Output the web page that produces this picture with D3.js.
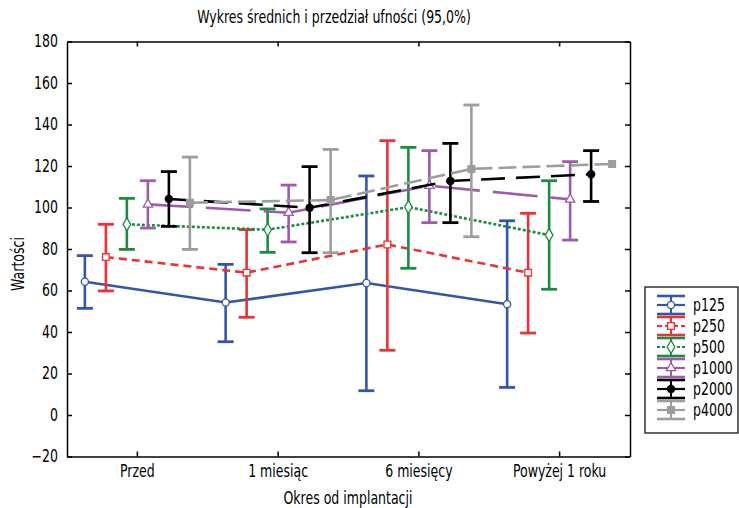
<!DOCTYPE html>
<html>
<head>
<meta charset="utf-8">
<script src="https://cdn.jsdelivr.net/npm/d3@7"></script>
<style>
  body { margin: 0; background: #fff; }
  svg text { font-family: "Liberation Sans Narrow", "DejaVu Sans Condensed", sans-serif; }
</style>
</head>
<body>
<svg id="chart" width="739" height="508"></svg>
<script>
// categories and series
var categories = ["Przed", "1 miesiąc", "6 miesięcy", "Powyżej 1 roku"]
var seriesNames = ["p125", "p250", "p500", "p1000", "p2000", "p4000"]
var yTicks = [-20, 0, 20, 40, 60, 80, 100, 120, 140, 160, 180]

// means and confidence limits
var means_p125 = [64.2, 54.2, 63.6, 53.4]
var lower_p125 = [51.4, 35.3, 11.7, 13.3]
var upper_p125 = [76.8, 72.6, 115.2, 93.6]

var means_p250 = [76.1, 68.6, 82.2, 68.6]
var lower_p250 = [59.8, 47.1, 31.2, 39.5]
var upper_p250 = [91.9, 89.3, 132.2, 97.2]

var means_p500 = [91.9, 89.3, 100.2, 86.7]
var lower_p500 = [79.8, 78.4, 70.7, 60.6]
var upper_p500 = [104.4, 99.3, 129.0, 112.9]

var means_p1000 = [101.5, 97.5, 110.5, 103.9]
var lower_p1000 = [90.1, 83.4, 92.7, 84.3]
var upper_p1000 = [112.9, 110.8, 127.4, 122.1]

var means_p2000 = [104.1, 99.9, 112.8, 116.0]
var lower_p2000 = [90.9, 78.2, 92.7, 102.9]
var upper_p2000 = [117.3, 119.7, 130.9, 127.4]

var means_p4000 = [102.3, 103.6, 118.6, 121.0]
var lower_p4000 = [79.8, 78.2, 85.9, 121.0]
var upper_p4000 = [124.3, 128.0, 149.4, 121.0]

var allMeans = [means_p125, means_p250, means_p500, means_p1000, means_p2000, means_p4000]
var allLower = [lower_p125, lower_p250, lower_p500, lower_p1000, lower_p2000, lower_p4000]
var allUpper = [upper_p125, upper_p250, upper_p500, upper_p1000, upper_p2000, upper_p4000]

// look of each series
var colors = ["#3456a6", "#ec3236", "#1d8a42", "#9c5bab", "#000000", "#9d9d9d"]
var dashes = [null, "8,5", "3,2", "45,13", "24,11", "18,6"]
var legendDashes = [null, "5,3", "3,2", null, null, null]
var symbols = [d3.symbolCircle, d3.symbolSquare, d3.symbolDiamond, d3.symbolTriangle, d3.symbolCircle, d3.symbolSquare]
var symSize = [40, 45, 50, 38, 40, 45]
var filled = [false, false, false, false, true, true]

var margin = {left: 67, right: 109, top: 41.5, bottom: 51.5}
var width = 739 - margin.left - margin.right,
  height = 508 - margin.top - margin.bottom

var svg = d3.select("#chart")
var g = svg.append("g").attr("transform", "translate(" + margin.left + "," + margin.top + ")")

var x = d3.scaleBand().domain(categories).range([0, width])
var y = d3.scaleLinear().domain([-20, 180]).range([height, 0])
var step = 21

function xpos(si, ci){
  return x(categories[ci]) + x.bandwidth() / 2 + (si - 2.5) * step
}

// squeeze text horizontally around its anchor, to mimic the condensed face
function narrow(sel){
  sel.each(function(){
    var t = d3.select(this)
    var tx = +t.attr("x") || 0, ty = +t.attr("y") || 0
    var prev = t.attr("transform") || ""
    t.attr("transform", prev + " translate(" + tx + "," + ty + ") scale(0.82,1) translate(" + (-tx) + "," + (-ty) + ")")
  })
}

// axes, ticks pointing inward
var axes = [
  g.append("g").call(d3.axisLeft(y).tickValues(yTicks).tickSize(-5).tickSizeOuter(0).tickPadding(9)),
  g.append("g").attr("transform", "translate(" + width + ",0)").call(d3.axisRight(y).tickValues(yTicks).tickSize(-5).tickSizeOuter(0).tickFormat("")),
  g.append("g").attr("transform", "translate(0," + height + ")").call(d3.axisBottom(x).tickSize(-5).tickSizeOuter(0).tickPadding(8)),
  g.append("g").call(d3.axisTop(x).tickSize(-5).tickSizeOuter(0).tickFormat(""))
]
axes.forEach(function(a){
  a.selectAll("path, line").attr("stroke", "#000").attr("stroke-width", 1.5)
  a.selectAll("text").attr("font-size", "17px").attr("fill", "#000")
    .style("font-family", '"Liberation Sans Narrow", "DejaVu Sans Condensed", sans-serif')
    .call(narrow)
})

// series
for (var s = 0; s < seriesNames.length; s++){
  var sg = g.append("g")
  var pts = categories.map(function(c, i){ return i })
  var line = d3.line().x(function(i){ return xpos(s, i) }).y(function(i){ return y(allMeans[s][i]) })

  sg.append("path").datum(pts)
    .attr("d", line)
    .attr("fill", "none")
    .attr("stroke", colors[s])
    .attr("stroke-width", 2.6)
    .attr("stroke-dasharray", dashes[s])

  for (var i = 0; i < categories.length; i++){
    var cx = xpos(s, i)
    var lo = y(allLower[s][i]), hi = y(allUpper[s][i])
    if (Math.abs(lo - hi) > 0.5){
      sg.append("line").attr("x1", cx).attr("x2", cx).attr("y1", lo).attr("y2", hi)
        .attr("stroke", colors[s]).attr("stroke-width", 2.6)
      sg.append("line").attr("x1", cx - 8).attr("x2", cx + 8).attr("y1", lo).attr("y2", lo)
        .attr("stroke", colors[s]).attr("stroke-width", 2.8)
      sg.append("line").attr("x1", cx - 8).attr("x2", cx + 8).attr("y1", hi).attr("y2", hi)
        .attr("stroke", colors[s]).attr("stroke-width", 2.8)
    }
    sg.append("path")
      .attr("d", d3.symbol().type(symbols[s]).size(symSize[s]))
      .attr("transform", "translate(" + cx + "," + y(allMeans[s][i]) + ")")
      .attr("fill", filled[s] ? colors[s] : "#fff")
      .attr("stroke", colors[s])
      .attr("stroke-width", 1.3)
  }
}

// title and axis titles
svg.append("text").attr("x", 334).attr("y", 23).attr("text-anchor", "middle")
  .attr("font-size", "17px").text("Wykres średnich i przedział ufności (95,0%)").call(narrow)
svg.append("text").attr("x", 348).attr("y", 504).attr("text-anchor", "middle")
  .attr("font-size", "17px").text("Okres od implantacji").call(narrow)
svg.append("text").attr("transform", "translate(24,264) rotate(-90)").attr("text-anchor", "middle")
  .attr("font-size", "17px").text("Wartości").call(narrow)

// legend
var legend = svg.append("g").attr("transform", "translate(645,287)")
legend.append("rect").attr("x", 0).attr("y", 0).attr("width", 93).attr("height", 146)
  .attr("fill", "#fff").attr("stroke", "#000").attr("stroke-width", 1.2)

seriesNames.forEach(function(name, s){
  var ly = 18 + s * 21
  var item = legend.append("g").attr("transform", "translate(0," + ly + ")")
  item.append("line").attr("x1", 12).attr("x2", 40).attr("y1", -9).attr("y2", -9)
    .attr("stroke", colors[s]).attr("stroke-width", 2.6)
  item.append("line").attr("x1", 12).attr("x2", 40).attr("y1", 9).attr("y2", 9)
    .attr("stroke", colors[s]).attr("stroke-width", 2.6)
  item.append("line").attr("x1", 26).attr("x2", 26).attr("y1", -9).attr("y2", 9)
    .attr("stroke", colors[s]).attr("stroke-width", 2)
  item.append("line").attr("x1", 12).attr("x2", 40).attr("y1", 0).attr("y2", 0)
    .attr("stroke", colors[s]).attr("stroke-width", 2.2)
    .attr("stroke-dasharray", legendDashes[s])
  item.append("path")
    .attr("d", d3.symbol().type(symbols[s]).size(symSize[s]))
    .attr("transform", "translate(26,0)")
    .attr("fill", filled[s] ? colors[s] : "#fff")
    .attr("stroke", colors[s]).attr("stroke-width", 1.3)
  item.append("text").attr("x", 48).attr("y", 6).attr("font-size", "17px").text(name).call(narrow)
})
</script>
</body>
</html>
